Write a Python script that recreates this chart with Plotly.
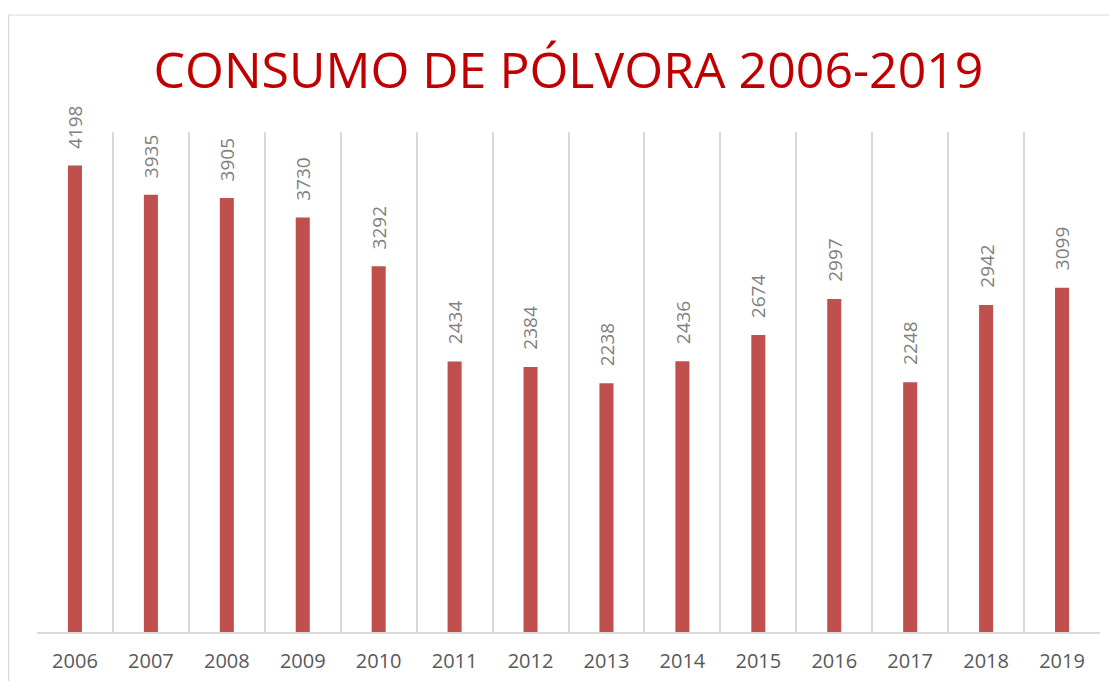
import plotly.graph_objects as go

years = ["2006", "2007", "2008", "2009", "2010", "2011", "2012",
         "2013", "2014", "2015", "2016", "2017", "2018", "2019"]
consumo = [4198, 3935, 3905, 3730, 3292, 2434, 2384,
           2238, 2436, 2674, 2997, 2248, 2942, 3099]
title_text = "CONSUMO DE PÓLVORA 2006-2019"

W, H = 1109, 673
L, R, T, B = 29, 17, 124, 49
pw, ph = W - L - R, H - T - B

fig = go.Figure()
fig.add_trace(go.Bar(
    x=years, y=consumo,
    marker=dict(color="#C0504D", line=dict(width=0)),
    width=0.185,
    hoverinfo="x+y",
))

for i, v in enumerate(consumo):
    fig.add_annotation(
        x=i, y=v, text=str(v), showarrow=False,
        textangle=-90, yanchor="bottom", xanchor="center", yshift=15,
        font=dict(family="Open Sans", size=19, color="#808080"),
    )

# chart border
fig.add_shape(type="rect", xref="paper", yref="paper",
              x0=(0.6 - L) / pw, x1=(W + 20 - L) / pw,
              y0=-(B + 20) / ph, y1=1 + (T - 7) / ph,
              line=dict(color="#d9d9d9", width=1.2), fillcolor="rgba(0,0,0,0)",
              layer="below")

fig.update_layout(
    width=W, height=H,
    margin=dict(l=L, r=R, t=T, b=B, autoexpand=False),
    paper_bgcolor="white", plot_bgcolor="white",
    showlegend=False,
    bargap=0.8,
    title=dict(text=title_text, x=0.5, xref="paper", xanchor="center",
               y=1 - 62 / H, yanchor="middle",
               font=dict(family="Open Sans", size=50, color="#C00000")),
    xaxis=dict(
        type="category", tickson="boundaries", showgrid=True,
        range=[-0.5, len(years) - 0.5], automargin=False,
        gridcolor="#d9d9d9", gridwidth=1.5,
        showline=True, linecolor="#d9d9d9", linewidth=1.5,
        ticks="", ticklen=0, tickangle=0, ticklabelstandoff=10,
        tickfont=dict(family="Open Sans", size=20, color="#595959"),
        fixedrange=True,
    ),
    yaxis=dict(
        range=[0, 4500], showgrid=False, showticklabels=False,
        zeroline=False, showline=False, fixedrange=True, automargin=False,
    ),
)

fig.write_html("out.html")
